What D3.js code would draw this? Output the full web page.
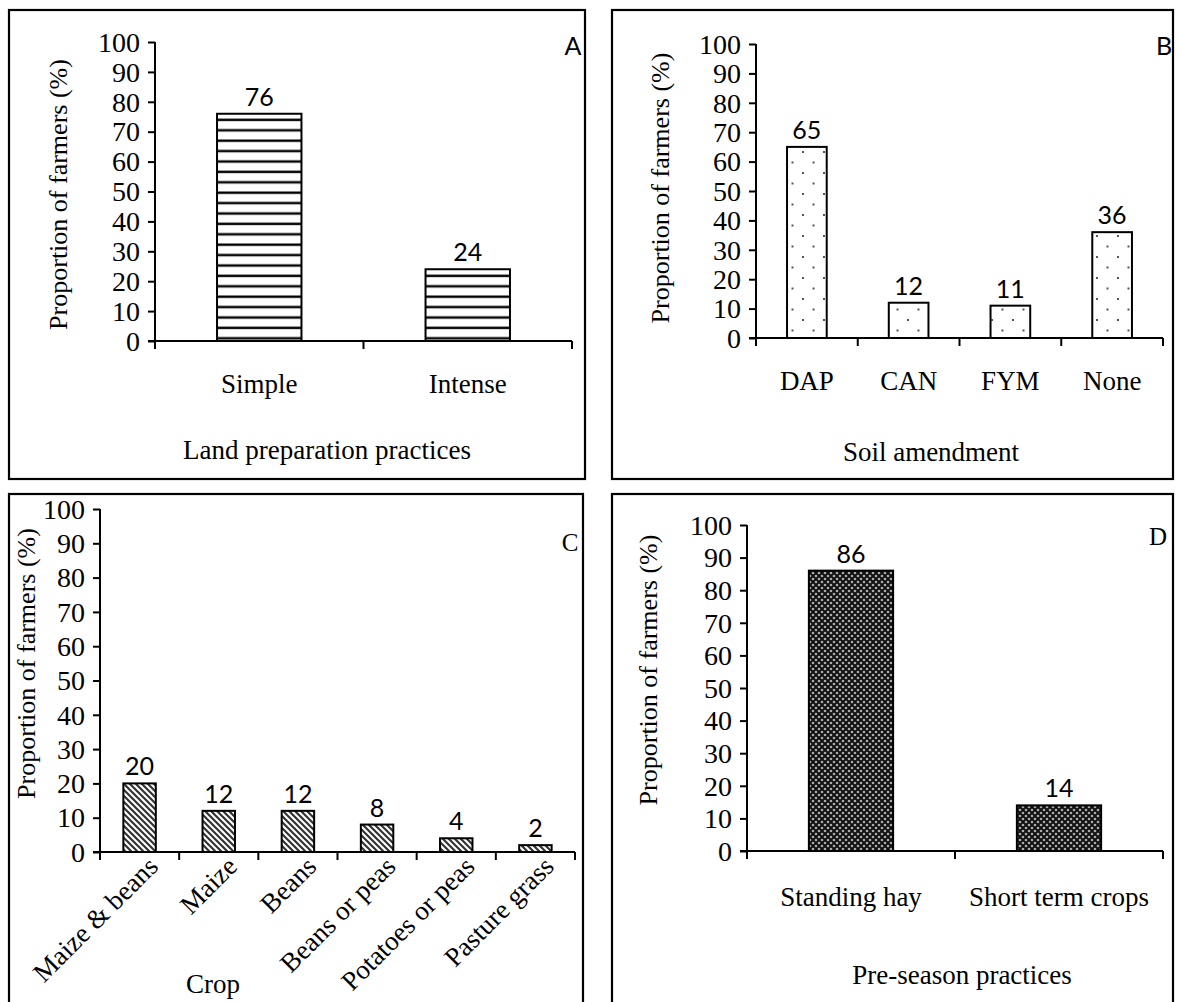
<!DOCTYPE html>
<html>
<head>
<meta charset="utf-8">
<script src="https://cdn.jsdelivr.net/npm/d3@7"></script>
<style>
  html, body { margin: 0; padding: 0; background: #fff; }
  svg { display: block; }
</style>
</head>
<body>
<svg id="chart" width="1180" height="1002"></svg>
<script>
// ---------- data ----------
const yTickValues = [0, 10, 20, 30, 40, 50, 60, 70, 80, 90, 100];

const catsA = ["Simple", "Intense"];
const valsA = [76, 24];

const catsB = ["DAP", "CAN", "FYM", "None"];
const valsB = [65, 12, 11, 36];

const catsC = ["Maize & beans", "Maize", "Beans", "Beans or peas", "Potatoes or peas", "Pasture grass"];
const valsC = [20, 12, 12, 8, 4, 2];

const catsD = ["Standing hay", "Short term crops"];
const valsD = [86, 14];

const yTitle = "Proportion of farmers (%)";

// ---------- drawing ----------
const svg = d3.select("#chart");
const SERIF = "'Liberation Serif', 'Times New Roman', serif";
const SANS = "Lato, 'Open Sans', sans-serif";

const defs = svg.append("defs");

// horizontal lines
const pH = defs.append("pattern").attr("id", "pHoriz").attr("patternUnits", "userSpaceOnUse")
  .attr("width", 8).attr("height", 10.4);
pH.append("rect").attr("width", 8).attr("height", 10.4).attr("fill", "#fff");
pH.append("rect").attr("y", 4).attr("width", 8).attr("height", 3).attr("fill", "#999");
pH.append("rect").attr("y", 4.5).attr("width", 8).attr("height", 2).attr("fill", "#000");

// sparse staggered dots
const pD = defs.append("pattern").attr("id", "pDots").attr("patternUnits", "userSpaceOnUse")
  .attr("width", 21).attr("height", 21);
pD.append("rect").attr("width", 21).attr("height", 21).attr("fill", "#fff");
pD.append("rect").attr("x", 4).attr("y", 4).attr("width", 2).attr("height", 2).attr("fill", "#555");
pD.append("rect").attr("x", 14.5).attr("y", 14.5).attr("width", 2).attr("height", 2).attr("fill", "#555");

// diagonal lines "\"
const pG = defs.append("pattern").attr("id", "pDiag").attr("patternUnits", "userSpaceOnUse")
  .attr("width", 6).attr("height", 6);
pG.append("rect").attr("width", 6).attr("height", 6).attr("fill", "#fff");
pG.append("path").attr("d", "M-1,-1 L7,7 M-1,5 L1,7 M5,-1 L7,1")
  .attr("stroke", "#333").attr("stroke-width", 2.2);

// dense checker / diamond
const pK = defs.append("pattern").attr("id", "pCheck").attr("patternUnits", "userSpaceOnUse")
  .attr("width", 6).attr("height", 6);
pK.append("rect").attr("width", 6).attr("height", 6).attr("fill", "#111");
[[0,0],[6,0],[0,6],[6,6],[3,3]].forEach(([cx, cy]) => {
  pK.append("circle").attr("cx", cx).attr("cy", cy).attr("r", 1.35).attr("fill", "#aaa");
});

function panel(cfg) {
  const g = svg.append("g");
  // frame
  g.append("rect").attr("x", cfg.box[0]).attr("y", cfg.box[1])
    .attr("width", cfg.box[2] - cfg.box[0]).attr("height", cfg.box[3] - cfg.box[1])
    .attr("fill", "none").attr("stroke", "#000").attr("stroke-width", 2.2);

  const y = d3.scaleLinear().domain([0, 100]).range([cfg.y0, cfg.y100]);
  const x = d3.scaleBand().domain(cfg.cats).range([cfg.x0, cfg.x1]).padding(0);
  const bw = x.bandwidth() * cfg.ratio;

  // bars
  g.selectAll("rect.bar").data(cfg.vals).enter().append("rect")
    .attr("class", "bar")
    .attr("x", (d, i) => x(cfg.cats[i]) + (x.bandwidth() - bw) / 2)
    .attr("y", d => y(d))
    .attr("width", bw)
    .attr("height", d => y(0) - y(d))
    .attr("fill", `url(#${cfg.pattern})`)
    .attr("stroke", "#000").attr("stroke-width", 2);

  // value labels
  g.selectAll("text.val").data(cfg.vals).enter().append("text")
    .attr("x", (d, i) => x(cfg.cats[i]) + x.bandwidth() / 2)
    .attr("y", d => y(d) - 8)
    .attr("text-anchor", "middle")
    .attr("font-family", SANS).attr("font-size", 25).attr("fill", "#000")
    .text(d => d);

  // y axis
  const yAx = g.append("g").attr("transform", `translate(${cfg.x0},0)`)
    .call(d3.axisLeft(y).tickValues(yTickValues).tickSize(7).tickPadding(8).tickFormat(d3.format("d")));
  yAx.select(".domain").attr("stroke-width", 2).attr("d", `M0,${cfg.y100}V${cfg.y0}`);
  yAx.selectAll(".tick line").attr("stroke-width", 2);
  yAx.selectAll(".tick text").attr("font-family", SERIF).attr("font-size", 28).attr("fill", "#000")
    .attr("dy", "0.33em");

  // x axis: line + ticks at band boundaries
  const xAx = g.append("g").attr("transform", `translate(0,${cfg.y0})`)
    .call(d3.axisBottom(x).tickSize(0).tickPadding(cfg.labelPad));
  xAx.select(".domain").attr("stroke-width", 2).attr("d", `M${cfg.x0 - 7},0H${cfg.x1}`);
  const bounds = cfg.cats.map(c => x(c)).concat([cfg.x1]);
  xAx.selectAll("line.bt").data(bounds).enter().append("line").attr("class", "bt")
    .attr("x1", d => d).attr("x2", d => d).attr("y1", 0).attr("y2", 8)
    .attr("stroke", "#000").attr("stroke-width", 2);
  const xt = xAx.selectAll(".tick text").attr("font-family", SERIF).attr("font-size", cfg.catSize)
    .attr("fill", "#000");
  if (cfg.rotate) {
    xt.attr("text-anchor", "end").attr("dy", "0")
      .attr("transform", `translate(${cfg.rotDx},${cfg.rotDy}) rotate(-45)`).attr("y", 0);
  }

  // y title
  g.append("text")
    .attr("transform", `translate(${cfg.yTitleX},${(cfg.y0 + cfg.y100) / 2 + cfg.yTitleDy}) rotate(-90)`)
    .attr("text-anchor", "middle")
    .attr("font-family", SERIF).attr("font-size", 26).attr("fill", "#000")
    .text(yTitle);

  // x title
  g.append("text").attr("x", cfg.xTitle[0]).attr("y", cfg.xTitle[1])
    .attr("text-anchor", "middle")
    .attr("font-family", SERIF).attr("font-size", 27).attr("fill", "#000")
    .text(cfg.xTitleText);

  // panel letter
  g.append("text").attr("x", cfg.letter[0]).attr("y", cfg.letter[1])
    .attr("text-anchor", "middle")
    .attr("font-family", cfg.letterFont).attr("font-size", 25).attr("fill", "#000")
    .text(cfg.letterText);
}

panel({
  box: [9, 10, 585, 479], cats: catsA, vals: valsA, pattern: "pHoriz", ratio: 0.405,
  x0: 155, x1: 572, y0: 341, y100: 42, labelPad: 33, catSize: 27,
  yTitleX: 67, yTitleDy: 3, xTitle: [327, 459], xTitleText: "Land preparation practices",
  letter: [573, 55], letterText: "A", letterFont: SANS
});

panel({
  box: [612, 10, 1173, 479], cats: catsB, vals: valsB, pattern: "pDots", ratio: 0.39,
  x0: 756, x1: 1163, y0: 338, y100: 44, labelPad: 33, catSize: 27,
  yTitleX: 669, yTitleDy: -3, xTitle: [931, 461], xTitleText: "Soil amendment",
  letter: [1164, 55], letterText: "B", letterFont: SANS
});

panel({
  box: [9, 494, 583, 1010], cats: catsC, vals: valsC, pattern: "pDiag", ratio: 0.41,
  x0: 100, x1: 575, y0: 852, y100: 509, labelPad: 0, catSize: 27,
  rotate: true, rotDx: 20, rotDy: 16,
  yTitleX: 35, yTitleDy: -17, xTitle: [213, 993], xTitleText: "Crop",
  letter: [570, 551], letterText: "C", letterFont: SERIF
});

panel({
  box: [612, 494, 1173, 1010], cats: catsD, vals: valsD, pattern: "pCheck", ratio: 0.405,
  x0: 747, x1: 1163, y0: 851, y100: 525, labelPad: 36, catSize: 27,
  yTitleX: 657, yTitleDy: -18, xTitle: [962, 984], xTitleText: "Pre-season  practices",
  letter: [1158, 545], letterText: "D", letterFont: SERIF
});
</script>
</body>
</html>
